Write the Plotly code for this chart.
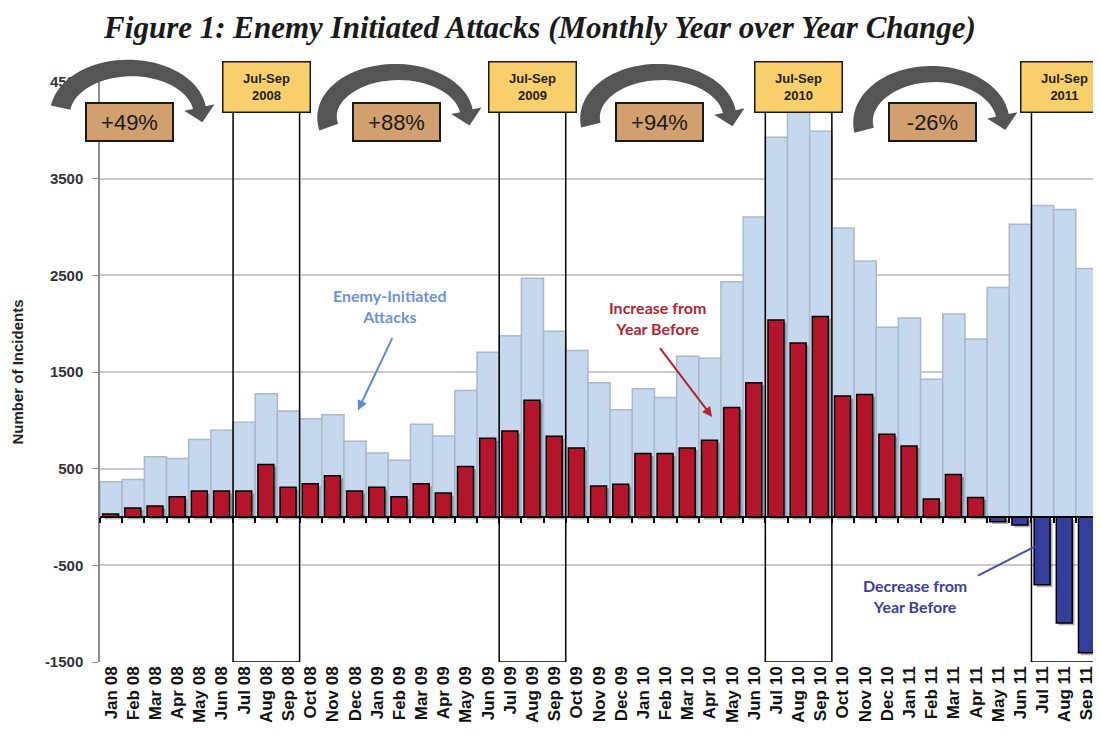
import numpy as np
import plotly.graph_objects as go

# ---- data ----
months = [
    'Jan 08', 'Feb 08', 'Mar 08', 'Apr 08', 'May 08', 'Jun 08', 'Jul 08', 'Aug 08', 'Sep 08', 'Oct 08', 'Nov 08', 'Dec 08',
    'Jan 09', 'Feb 09', 'Mar 09', 'Apr 09', 'May 09', 'Jun 09', 'Jul 09', 'Aug 09', 'Sep 09', 'Oct 09', 'Nov 09', 'Dec 09',
    'Jan 10', 'Feb 10', 'Mar 10', 'Apr 10', 'May 10', 'Jun 10', 'Jul 10', 'Aug 10', 'Sep 10', 'Oct 10', 'Nov 10', 'Dec 10',
    'Jan 11', 'Feb 11', 'Mar 11', 'Apr 11', 'May 11', 'Jun 11', 'Jul 11', 'Aug 11', 'Sep 11',
]
attacks = [
    364, 389, 622, 605, 801, 897, 979, 1275, 1096, 1017, 1058, 783,
    663, 588, 959, 838, 1309, 1704, 1876, 2471, 1921, 1722, 1388, 1110,
    1327, 1237, 1663, 1643, 2433, 3103, 3928, 4270, 3990, 2990, 2649, 1962,
    2059, 1426, 2100, 1842, 2374, 3028, 3223, 3182, 2570,
]
yoy_change = [
    31, 93, 113, 209, 268, 268, 268, 543, 309, 344, 426, 268,
    309, 209, 344, 247, 522, 815, 890, 1209, 835, 715, 320, 340,
    656, 656, 715, 794, 1134, 1388, 2038, 1801, 2075, 1251, 1268, 856,
    735, 186, 440, 203, -48, -82, -701, -1096, -1405,
]
period_start = ['Jul 08', 'Jul 09', 'Jul 10', 'Jul 11']
period_years = ['2008', '2009', '2010', '2011']
change_pct = ['+49%', '+88%', '+94%', '-26%']
y_ticks = [-1500, -500, 500, 1500, 2500, 3500, 4500]
Y_MIN, Y_MAX = -1500, 4500

# ---- page geometry (screen px; page body adds an 8px margin) ----
OFF = 8
W, H = 1101 - OFF, 736 - OFF
L, R, T, B = 100 - OFF, 3, 82 - OFF, 74
PW, PH = W - L - R, H - T - B


def to_paper(px, py):
    # px, py are screen coordinates of the 1101x736 window
    return (px - OFF - L) / PW, 1 - (py - OFF - T) / PH


def curved_arrow(cx, cy, ry, a0, rx=70, a1=8, w0=20, w1=13, head_w=31, head_l=15):
    th = np.radians(np.linspace(a0, a1, 40))
    w = np.linspace(w0, w1, 40)
    xc, yc = cx + rx * np.cos(th), cy - ry * np.sin(th)
    tx, ty = rx * np.sin(th), ry * np.cos(th)
    n = np.hypot(tx, ty)
    tx, ty = tx / n, ty / n
    nx, ny = ty, -tx
    outer = list(zip(xc + nx * w / 2, yc + ny * w / 2))
    inner = list(zip(xc - nx * w / 2, yc - ny * w / 2))
    ex, ey = xc[-1], yc[-1]
    head = [(ex + nx[-1] * head_w / 2, ey + ny[-1] * head_w / 2),
            (ex + tx[-1] * head_l, ey + ty[-1] * head_l),
            (ex - nx[-1] * head_w / 2, ey - ny[-1] * head_w / 2)]
    pts = outer + head + inner[::-1]
    pp = [to_paper(x, y) for x, y in pts]
    return 'M ' + ' L '.join(f'{x:.5f},{y:.5f}' for x, y in pp) + ' Z'


fig = go.Figure()

fig.add_trace(go.Bar(x=months, y=attacks, width=1.0,
                     marker=dict(color='#c6d8ee', line=dict(color='#a9b8ca', width=1.5))))
# soft drop shadow behind the change bars
fig.add_trace(go.Bar(x=months, y=yoy_change, base=-25, width=0.72, offset=-0.27,
                     marker=dict(color='rgba(0,0,0,0.30)', line=dict(width=0))))
fig.add_trace(go.Bar(x=months, y=yoy_change, width=0.72, offset=-0.38,
                     marker=dict(color=['#b5152b' if v >= 0 else '#343f9b' for v in yoy_change],
                                 line=dict(color='black', width=1.5))))
# carrier for the zero-line axis
fig.add_trace(go.Scatter(x=months, y=[0] * len(months), xaxis='x2', mode='lines',
                         line=dict(width=0), hoverinfo='skip'))

shapes = []
annotations = []
for yr, start in zip(period_years, period_start):
    i0 = months.index(start)
    shapes.append(dict(type='rect', xref='x', yref='y', x0=i0 - 0.5, x1=i0 + 2.5, y0=Y_MIN, y1=Y_MAX,
                       line=dict(color='black', width=1.5), layer='above'))
    annotations.append(dict(xref='x', yref='paper', x=i0 + 1, y=to_paper(0, 87)[1],
                            xanchor='center', yanchor='middle',
                            text=f'<b>Jul-Sep<br>{yr}</b>', showarrow=False,
                            width=86, height=49, borderpad=0, bgcolor='#f9cf6b',
                            bordercolor='#1a1a1a', borderwidth=1.5,
                            font=dict(family='Arial', size=13, color='#222')))

arrow_cx = [130, 397, 660, 933]
arrow_cy = [114, 117, 118, 122]
arrow_ry = [46, 45, 46, 48]
arrow_a0 = [172, 193, 189, 190]
for cx, cy, ry, a0, pct in zip(arrow_cx, arrow_cy, arrow_ry, arrow_a0, change_pct):
    shapes.append(dict(type='path', xref='paper', yref='paper', path=curved_arrow(cx, cy, ry, a0),
                       fillcolor='#545454', line=dict(width=0), layer='above'))
    bx, by = to_paper(cx - 1, 122)
    annotations.append(dict(xref='paper', yref='paper', x=bx, y=by, xanchor='center', yanchor='middle',
                            text=pct, showarrow=False,
                            width=85, height=36, borderpad=0, bgcolor='#d2a06f',
                            bordercolor='#1a1a1a', borderwidth=2,
                            font=dict(family='Arial', size=22, color='#1a1a1a')))

callout_font = dict(family='Lato', size=16, weight='bold')
annotations += [
    dict(x=12.57, y=2180, text='Enemy-Initiated<br>Attacks', showarrow=False,
         font=dict(color='#6d93d6', **callout_font)),
    dict(x=11.13, y=1103, ax=12.71, ay=1866, axref='x', ayref='y', text='',
         showarrow=True, arrowhead=2, arrowsize=1, arrowwidth=2, arrowcolor='#5f8ad0'),
    dict(x=24.66, y=2057, text='Increase from<br>Year Before', showarrow=False,
         font=dict(color='#b3262f', **callout_font)),
    dict(x=27.1, y=1034, ax=24.70, ay=1763, axref='x', ayref='y', text='',
         showarrow=True, arrowhead=2, arrowsize=1, arrowwidth=2, arrowcolor='#b3262f'),
    dict(x=36.24, y=-814, text='Decrease from<br>Year Before', showarrow=False,
         font=dict(color='#3a3f9c', **callout_font)),
    dict(x=41.65, y=-306, ax=39.02, ay=-615, axref='x', ayref='y', text='',
         showarrow=True, arrowhead=0, arrowwidth=2, arrowcolor='#4a4fb0'),
]

zero_pos = (0 - Y_MIN) / (Y_MAX - Y_MIN)

fig.update_layout(
    width=W, height=H,
    margin=dict(l=L, r=R, t=T, b=B, autoexpand=False),
    paper_bgcolor='white', plot_bgcolor='white',
    barmode='overlay', showlegend=False, hovermode=False,
    title=dict(text='Figure 1: Enemy Initiated Attacks (Monthly Year over Year Change)',
               x=(540 - OFF) / W, xref='container', xanchor='center',
               y=1 - (27 - OFF) / H, yref='container', yanchor='middle',
               font=dict(family='Liberation Serif', size=31, weight='bold', style='italic', color='#1a1a1a')),
    xaxis=dict(type='category', categoryorder='array', categoryarray=months,
               range=[-0.5, len(months) - 0.5], tickangle=-90, showgrid=False, showline=False,
               ticks='', zeroline=False, automargin=False,
               tickfont=dict(family='Arial', size=17, weight='bold', color='#111')),
    xaxis2=dict(overlaying='x', anchor='free', position=zero_pos, type='category',
                categoryorder='array', categoryarray=months, range=[-0.5, len(months) - 0.5],
                showline=True, linecolor='black', linewidth=2, ticks='outside', ticklen=5,
                tickwidth=1.5, tickcolor='black', tickson='boundaries', showticklabels=False,
                showgrid=False, zeroline=False),
    yaxis=dict(range=[Y_MIN, Y_MAX], tickvals=y_ticks, ticktext=[str(v) for v in y_ticks],
               showgrid=True, gridcolor='#c9c9c9', gridwidth=1.5, zeroline=False,
               showline=True, linecolor='#8c8c8c', linewidth=1.5, automargin=False,
               ticks='outside', ticklen=6, tickcolor='#8c8c8c', ticklabelstandoff=6,
               tickfont=dict(family='Arial', size=15, weight='bold', color='#333'),
               title=dict(text='Number of Incidents', standoff=18,
                          font=dict(family='Arial', size=15, weight='bold', color='#222'))),
    shapes=shapes,
    annotations=annotations,
)

fig.write_html("out.html")
